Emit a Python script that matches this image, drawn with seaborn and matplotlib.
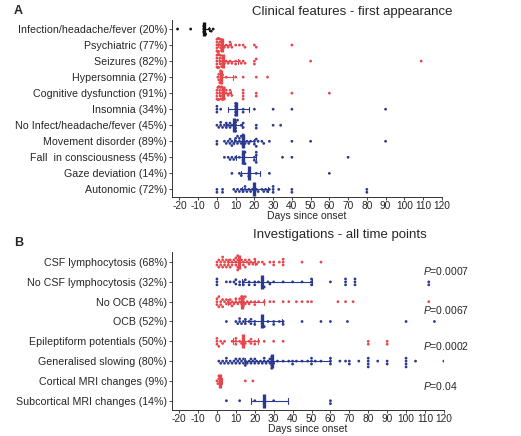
import matplotlib
matplotlib.use("Agg")
import matplotlib.pyplot as plt
import seaborn as sns
import pandas as pd

RED = "#e5474c"
BLUE = "#2b3990"
BLACK = "#111111"

# Panel A - clinical features, first appearance (days since onset)
labels_a = ["Infection/headache/fever (20%)", "Psychiatric (77%)", "Seizures (82%)",
            "Hypersomnia (27%)", "Cognitive dysfunction (91%)", "Insomnia (34%)",
            "No Infect/headache/fever (45%)", "Movement disorder (89%)",
            "Fall  in consciousness (45%)", "Gaze deviation (14%)", "Autonomic (72%)"]
colors_a = [BLACK, RED, RED, RED, RED, BLUE, BLUE, BLUE, BLUE, BLUE, BLUE]

infection = [-21, -14, -7, -7, -7, -6, -4, -3, -2]
psychiatric = [0, 0, 0, 0, 0, 0.5, 0.5, 0.5, 1, 1, 1, 1.5, 1.5, 2, 2, 2.5, 3, 3, 4, 5,
               6, 7, 7, 8, 10, 12, 14, 15, 20, 21, 40]
seizures = [0, 0, 0, 0, 0, 0.5, 0.5, 0.5, 1, 1, 1, 1.5, 1.5, 2, 2, 2.5, 3, 3, 4,
            5, 6, 7, 8, 10, 10, 12, 13, 14, 15, 20, 20, 21, 50, 109]
hypersomnia = [0.5, 1, 1, 1.5, 2, 2, 2, 2.5, 3, 5, 10, 14, 21, 27]
cognitive = [0, 0, 0, 0, 0.5, 0.5, 1, 1, 1, 1.5, 1.5, 2, 2, 2, 2.5, 3, 3, 3, 3.5, 4, 4, 5,
             5, 6, 7, 7, 8, 14, 14, 14, 14, 21, 21, 40, 60]
insomnia = [0, 0, 0, 2, 10, 10, 10, 10, 10, 14, 14, 20, 30, 40, 90]
no_infect = [0, 1, 2, 2, 3, 4, 5, 5, 6, 7, 7, 8, 10, 10, 10, 10, 11, 13, 14, 14, 21, 21, 30, 34]
movement = [0, 0, 4, 5, 6, 7, 7, 8, 8, 9, 10, 10, 11, 11, 12, 12, 13, 13, 14, 14, 14, 14,
            15, 16, 17, 18, 20, 20, 21, 21, 22, 24, 25, 28, 40, 50, 90]
fall = [4, 6, 7, 8, 9, 10, 12, 14, 14, 14, 14, 15, 15, 20, 20, 21, 21, 21, 35, 40, 70]
gaze = [8, 12, 13, 17, 17, 21, 28, 60]
autonomic = [0, 0, 3, 3, 9, 10, 11, 12, 13, 14, 15, 15, 16, 17, 18, 19, 20, 20, 20, 20,
             21, 22, 24, 25, 26, 27, 28, 30, 30, 30, 33, 40, 40, 80, 80]
values_a = [infection, psychiatric, seizures, hypersomnia, cognitive, insomnia,
            no_infect, movement, fall, gaze, autonomic]

# Panel B - investigations, all time points
labels_b = ["CSF lymphocytosis (68%)", "No CSF lymphocytosis (32%)", "No OCB (48%)",
            "OCB (52%)", "Epileptiform potentials (50%)", "Generalised slowing (80%)",
            "Cortical MRI changes (9%)", "Subcortical MRI changes (14%)"]
colors_b = [RED, BLUE, RED, BLUE, RED, BLUE, RED, BLUE]

csf_lymph = [0, 0, 1, 1, 2, 2, 3, 3, 3, 4, 4, 5, 5, 6, 6, 7, 7, 8, 8, 9, 10, 10,
             10, 11, 11, 11, 11, 12, 12, 13, 14, 14, 15, 15, 16, 17, 17, 18, 19, 20,
             20, 21, 22, 24, 25, 28, 30, 30, 33, 35, 35, 35, 45, 55]
no_csf = [0, 0, 0, 5, 7, 9, 10, 10, 12, 12, 14, 14, 15, 17, 17, 20, 20, 22, 24, 24, 24, 25,
          27, 28, 30, 35, 40, 45, 50, 50, 50, 60, 68, 68, 68, 73, 73, 73, 112, 112]
no_ocb = [0, 0, 0, 1, 1, 2, 2, 3, 3, 4, 5, 5, 6, 7, 7, 8, 8, 9, 10, 10, 11, 12, 12, 13,
          13, 14, 14, 14, 15, 15, 16, 17, 18, 20, 20, 22, 25, 28, 30, 35, 38, 42, 45, 48,
          50, 64, 68, 72, 112]
ocb = [5, 10, 11, 12, 12, 13, 14, 15, 15, 17, 18, 18, 20, 20, 24, 24, 24, 25, 27, 30, 30, 33,
       35, 35, 45, 55, 60, 69, 100, 115]
epileptiform = [0, 0, 0, 1, 2, 3, 4, 8, 10, 10, 10, 12, 13, 14, 14, 14, 15, 17, 18, 18, 20,
                20, 22, 25, 30, 35, 80, 80, 90, 90]
slowing = [1, 2, 3, 4, 5, 5, 6, 7, 8, 9, 10, 10, 11, 12, 12, 13, 14, 14, 15, 15, 16, 17, 18,
           18, 19, 20, 20, 21, 22, 23, 24, 25, 25, 26, 27, 28, 28, 29, 29, 29, 29, 30, 32, 35,
           38, 40, 40, 42, 45, 48, 50, 50, 50, 52, 55, 60, 60, 60, 65, 68, 70, 70, 75, 80, 80,
           80, 80, 85, 90, 90, 100, 100, 100, 100, 105, 120]
cortical = [0, 0.5, 1, 1, 1.5, 2, 2.5, 15, 19]
subcortical = [5, 12, 20, 25, 25, 30, 60, 60]
values_b = [csf_lymph, no_csf, no_ocb, ocb, epileptiform, slowing, cortical, subcortical]

p_values = ["=0.0007", "=0.0067", "=0.0002", "=0.04"]
p_rows = [0.45, 2.4, 4.25, 6.25]
xticks = list(range(-20, 121, 10))


def long_table(labels, values):
    rows = []
    for lab, vals in zip(labels, values):
        for v in vals:
            rows.append({"feature": lab, "days": v})
    return pd.DataFrame(rows)


sns.set_style("ticks")
plt.rcParams["font.family"] = ["Liberation Sans", "DejaVu Sans"]
plt.rcParams["mathtext.fontset"] = "custom"
plt.rcParams["mathtext.it"] = "Liberation Sans:italic"
plt.rcParams["mathtext.rm"] = "Liberation Sans"

fig = plt.figure(figsize=(5.21, 4.36), dpi=100)
ax_a = fig.add_axes([0.330, 0.548, 0.518, 0.406])
ax_b = fig.add_axes([0.330, 0.0596, 0.522, 0.362])


def draw_panel(ax, labels, values, colors, top, bottom):
    df = long_table(labels, values)
    pal = dict(zip(labels, colors))
    sns.swarmplot(data=df, x="days", y="feature", hue="feature", order=labels,
                  palette=pal, size=2.0, linewidth=0, legend=False, ax=ax, zorder=3)
    sns.pointplot(data=df, x="days", y="feature", hue="feature", order=labels,
                  palette=pal, estimator="median", errorbar=("pi", 50), marker="|",
                  markersize=10, markeredgewidth=2.4, linestyle="none", capsize=0.3,
                  err_kws={"linewidth": 0.8, "zorder": 4}, legend=False, ax=ax, zorder=5)
    ax.set_ylim(bottom, top)
    ax.set_xticks(xticks)
    ax.set_xticklabels([str(t) for t in xticks], fontsize=7.3)
    ax.tick_params(axis="y", labelsize=7.7, length=2.5, width=0.6, pad=1)
    ax.tick_params(axis="x", length=2, width=0.6, pad=0.8)
    ax.set_ylabel("")
    ax.set_xlabel("Days since onset", fontsize=7.5, labelpad=0)
    for s in ["left", "bottom"]:
        ax.spines[s].set_linewidth(0.7)
        ax.spines[s].set_color("#333333")
    sns.despine(ax=ax)


draw_panel(ax_a, labels_a, values_a, colors_a, -0.56, 10.48)
ax_a.set_xlim(-24, 120)
ax_a.set_title("Clinical features - first appearance", fontsize=9.5, x=0.67, pad=4)

draw_panel(ax_b, labels_b, values_b, colors_b, -0.5, 7.47)
ax_b.set_xlim(-23.8, 120)
ax_b.set_title("Investigations - all time points", fontsize=9.5, x=0.618, pad=10)
for txt, row in zip(p_values, p_rows):
    ax_b.text(109, row, "$P$" + txt, fontsize=7.5, va="center", ha="left")

fig.text(0.027, 0.975, "A", fontsize=9, fontweight="bold", va="center")
fig.text(0.027, 0.442, "B", fontsize=9, fontweight="bold", va="center")

fig.savefig("out.png", dpi=100)
